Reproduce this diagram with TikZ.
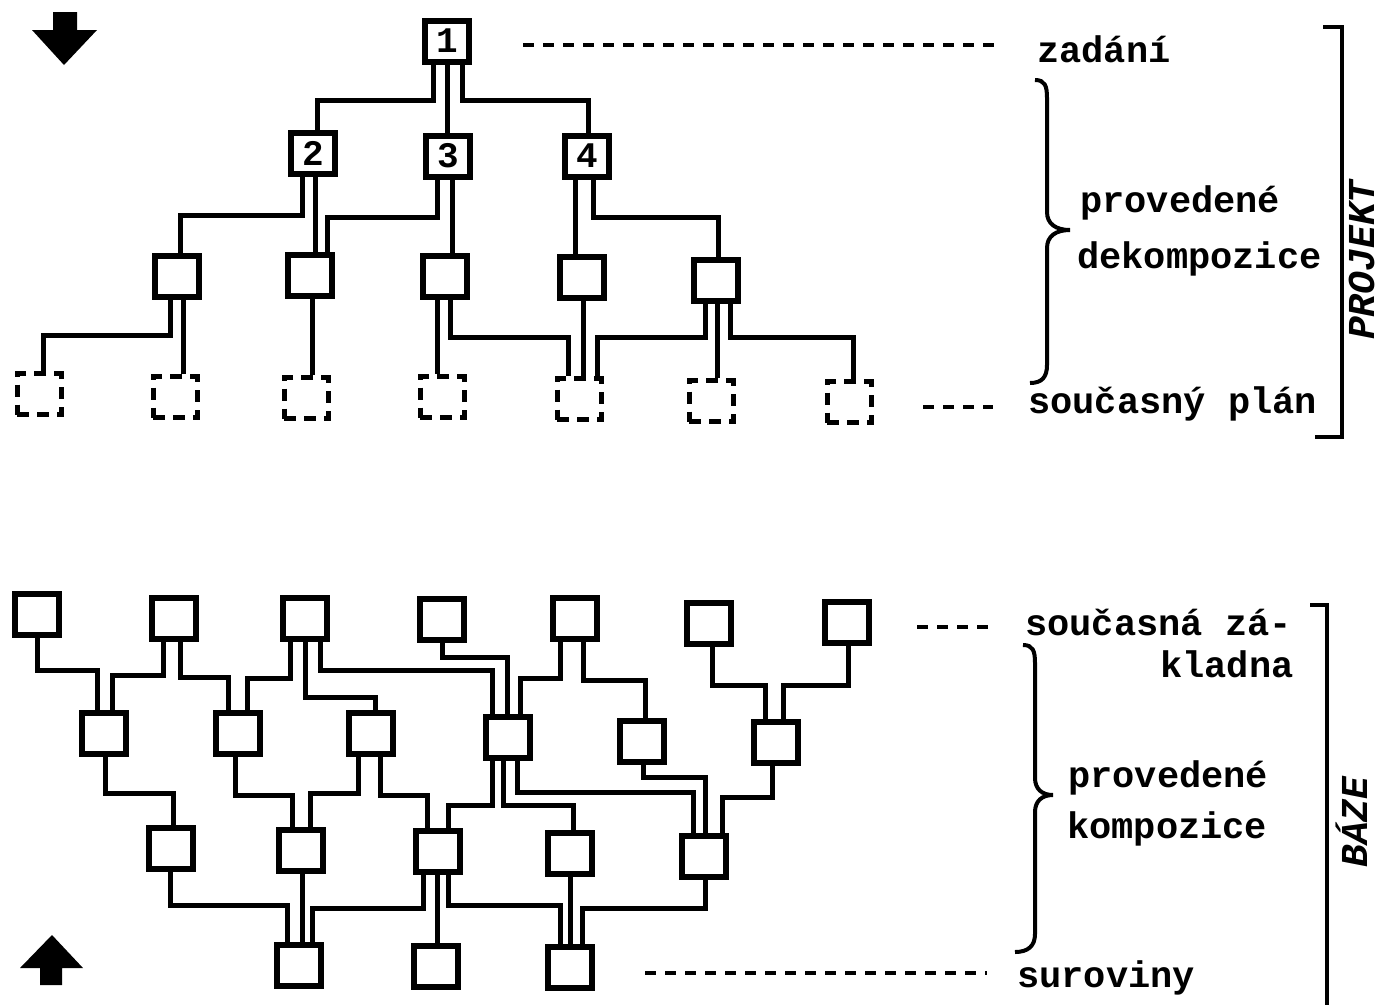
\documentclass[tikz,border=0pt]{standalone}
\usepackage{fontspec}
\newfontfamily\tw{Liberation Mono}
\tikzset{
  box/.style={draw, line width=6pt, minimum width=44pt, minimum height=41pt, inner sep=0pt, font=\tw\bfseries\fontsize{36}{36}\selectfont},
  ghost/.style={box, line width=5pt, dash pattern=on 12pt off 8pt},
  wire/.style={line width=5pt},
  leader/.style={line width=3.5pt, dash pattern=on 11pt off 9pt},
  lbl/.style={inner sep=0pt, anchor=base west, font=\tw\bfseries\fontsize{37}{40}\selectfont},
  side/.style={inner sep=0pt, rotate=90, font=\tw\bfseries\itshape\fontsize{38}{40}\selectfont},
  brk/.style={line width=4.5pt},
  brc/.style={line width=4pt}
}
\newcommand\lnkE[5]{\draw[wire] ([xshift=#2]#1.south) |- (#3) -- ([xshift=#5]#4.north);}
\newcommand\lnkS[4]{\draw[wire] ([xshift=#2]#1.south) -- ([xshift=#4]#3.north);}
\begin{document}
\begin{tikzpicture}[x=1pt,y=-1pt]
\fill[white] (0,0) rectangle (1391,1005);
\useasboundingbox (0,0) rectangle (1391,1005);

% arrows
\fill (53,12) -- (77,12) -- (77,30) -- (97,30) -- (64,65) -- (32,30) -- (53,30) -- cycle;
\fill (40,985) -- (62,985) -- (62,968) -- (83,968) -- (52,935) -- (20,968) -- (40,968) -- cycle;

% ---------- top tree ----------
\node[box] (n1) at (447,41) {1};
\node[box] (n2) at (313,153) {2};
\node[box] (n3) at (448,156) {3};
\node[box] (n4) at (587,156) {4};
\node[box] (a) at (177,276) {};
\node[box] (b) at (310,275) {};
\node[box] (c) at (445,276) {};
\node[box] (d) at (582,277) {};
\node[box] (e) at (716,280) {};
\node[ghost] (p1) at (39,394) {};
\node[ghost] (p2) at (175,397) {};
\node[ghost] (p3) at (306,398) {};
\node[ghost] (p4) at (442,397) {};
\node[ghost] (p5) at (579,399) {};
\node[ghost] (p6) at (711,401) {};
\node[ghost] (p7) at (849,402) {};

\lnkE{n1}{-14pt}{317,100}{n2}{4pt}
\lnkS{n1}{0pt}{n3}{-1pt}
\lnkE{n1}{15pt}{588,100}{n4}{1pt}
\lnkE{n2}{-11pt}{180,215}{a}{3pt}
\lnkS{n2}{2pt}{b}{5pt}
\lnkE{n3}{-11pt}{327,217}{b}{17pt}
\lnkS{n3}{4pt}{c}{7pt}
\lnkS{n4}{-12pt}{d}{-7pt}
\lnkE{n4}{6pt}{718,217}{e}{2pt}
\lnkE{a}{-7pt}{43,335}{p1}{4pt}
\lnkS{a}{6pt}{p2}{8pt}
\lnkS{b}{2pt}{p3}{6pt}
\lnkS{c}{-8pt}{p4}{-5pt}
\lnkE{c}{5pt}{568,337}{p5}{-11pt}
\lnkS{d}{1pt}{p5}{4pt}
\lnkE{e}{-11pt}{597,337}{p5}{18pt}
\lnkS{e}{1pt}{p6}{6pt}
\lnkE{e}{14pt}{853,337}{p7}{4pt}

% ---------- bottom network ----------
\node[box] (T1) at (37,614) {};
\node[box] (T2) at (174,618) {};
\node[box] (T3) at (305,618) {};
\node[box] (T4) at (442,619) {};
\node[box] (T5) at (575,618) {};
\node[box] (T6) at (709,623) {};
\node[box] (T7) at (847,622) {};
\node[box] (M1) at (104,733) {};
\node[box] (M2) at (238,733) {};
\node[box] (M3) at (371,733) {};
\node[box] (M4) at (508,737) {};
\node[box] (M5) at (642,741) {};
\node[box] (M6) at (776,742) {};
\node[box] (L1) at (171,848) {};
\node[box] (L2) at (301,850) {};
\node[box] (L3) at (438,851) {};
\node[box] (L4) at (570,853) {};
\node[box] (L5) at (704,856) {};
\node[box] (R1) at (299,965) {};
\node[box] (R2) at (436,966) {};
\node[box] (R3) at (570,967) {};

\lnkE{T1}{0pt}{97,670}{M1}{-7pt}
\lnkE{T2}{-11pt}{112,675}{M1}{8pt}
\lnkE{T2}{6pt}{228,677}{M2}{-10pt}
\lnkE{T3}{-15pt}{247,678}{M2}{9pt}
\lnkE{T3}{0pt}{375,697}{M3}{4pt}
\lnkE{T3}{15pt}{492,670}{M4}{-16pt}
\lnkE{T4}{0pt}{507,657}{M4}{-1pt}
\lnkE{T5}{-15pt}{520,678}{M4}{12pt}
\lnkE{T5}{8pt}{645,680}{M5}{3pt}
\lnkE{T6}{3pt}{765,685}{M6}{-11pt}
\lnkE{T7}{1pt}{783,685}{M6}{7pt}

\lnkE{M1}{1pt}{173,793}{L1}{2pt}
\lnkE{M2}{-3pt}{292,795}{L2}{-9pt}
\lnkE{M3}{-13pt}{310,793}{L2}{9pt}
\lnkE{M3}{9pt}{427,795}{L3}{-11pt}
\lnkE{M4}{-16pt}{448,805}{L3}{10pt}
\lnkE{M4}{-5pt}{573,805}{L4}{3pt}
\lnkE{M4}{9pt}{693,792}{L5}{-11pt}
\lnkE{M5}{1pt}{705,777}{L5}{1pt}
\lnkE{M6}{-4pt}{722,797}{L5}{18pt}

\lnkE{L1}{-1pt}{287,905}{R1}{-12pt}
\lnkS{L2}{1pt}{R1}{3pt}
\lnkE{L3}{-15pt}{312,908}{R1}{13pt}
\lnkS{L3}{-1pt}{R2}{1pt}
\lnkE{L3}{10pt}{560,905}{R3}{-10pt}
\lnkS{L4}{0pt}{R3}{0pt}
\lnkE{L5}{1pt}{582,908}{R3}{12pt}

% ---------- labels ----------
\node[lbl] (zad) at (1037,62) {zadání};
\node[lbl] (prov1) at (1080,212) {provedené};
\node[lbl] (dek) at (1077,268) {dekompozice};
\node[lbl] (splan) at (1028,413) {současný plán};
\node[lbl] (szak) at (1025,635) {současná zá-};
\node[lbl] (klad) at (1160,677) {kladna};
\node[lbl] (prov2) at (1068,787) {provedené};
\node[lbl] (komp) at (1067,838) {kompozice};
\node[lbl] (surov) at (1017,987) {suroviny};
\node[side] (projekt) at (1362,260) {PROJEKT};
\node[side] (baze) at (1352,822) {BÁZE};

% leaders
\coordinate (z1) at (523,45);  \coordinate (z2) at (1003,45);
\coordinate (s1) at (923,407); \coordinate (s2) at (993,407);
\coordinate (k1) at (917,627); \coordinate (k2) at (988,627);
\coordinate (r1) at (645,973); \coordinate (r2) at (987,973);
\draw[leader] (z1) -- (z2);
\draw[leader] (s1) -- (s2);
\draw[leader] (k1) -- (k2);
\draw[leader] (r1) -- (r2);

% braces
\draw[brc] (1035,80) .. controls (1045,80) and (1047,86) .. (1047,98) -- (1047,212)
  .. controls (1047,224) and (1056,230) .. (1070,230)
  .. controls (1056,230) and (1047,236) .. (1047,248) -- (1047,365)
  .. controls (1047,377) and (1042,383) .. (1030,383);
\draw[brc] (1023,645) .. controls (1033,645) and (1035,651) .. (1035,663) -- (1035,778)
  .. controls (1035,789) and (1042,795) .. (1053,795)
  .. controls (1042,795) and (1035,801) .. (1035,812) -- (1035,934)
  .. controls (1035,946) and (1028,952) .. (1015,952);

% brackets
\draw[brk] (1323,27) -- (1342,27) -- (1342,437) -- (1315,437);
\draw[brk] (1310,605) -- (1327,605) -- (1327,1005);
\end{tikzpicture}
\end{document}
